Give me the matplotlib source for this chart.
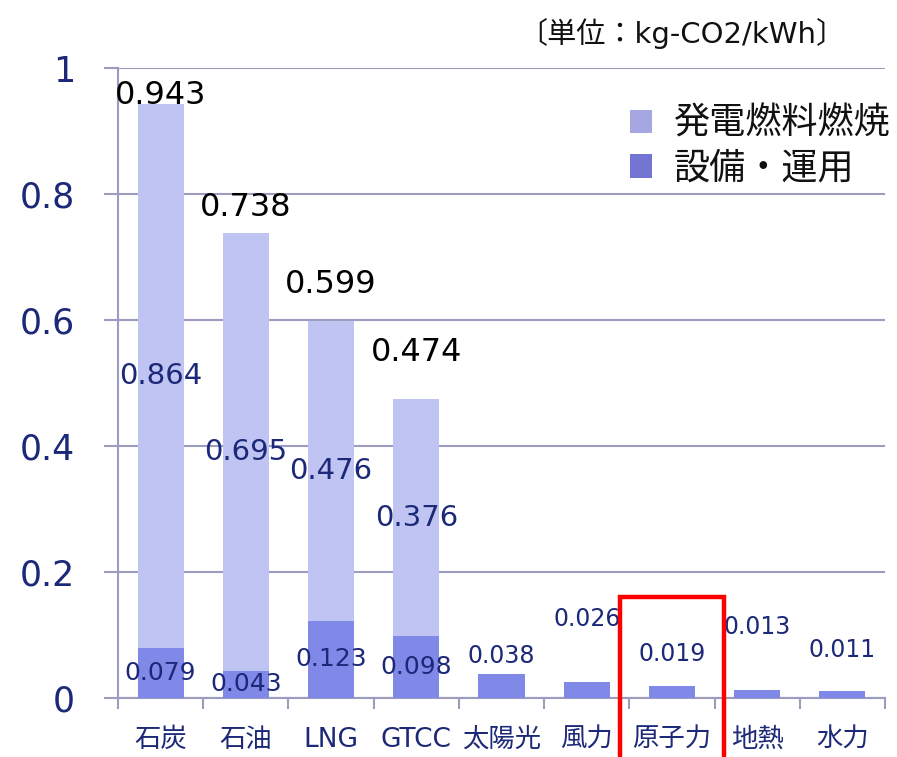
import matplotlib
matplotlib.use("Agg")
import matplotlib.pyplot as plt
from matplotlib.patches import Rectangle, Patch

plt.rcParams['font.family'] = ['DejaVu Sans', 'Noto Sans CJK JP']

categories = ['石炭', '石油', 'LNG', 'GTCC', '太陽光', '風力', '原子力', '地熱', '水力']
fuel = [0.864, 0.695, 0.476, 0.376, 0, 0, 0, 0, 0]
equip = [0.079, 0.043, 0.123, 0.098, 0.038, 0.026, 0.019, 0.013, 0.011]
totals = [0.943, 0.738, 0.599, 0.474]
yticks = [0, 0.2, 0.4, 0.6, 0.8, 1]
ytick_labels = ['0', '0.2', '0.4', '0.6', '0.8', '1']
legend_labels = ['発電燃料燃焼', '設備・運用']
unit_text = '〔単位：kg-CO2/kWh〕'

# label placement (layout, not data)
total_label_y = [0.957, 0.778, 0.656, 0.548]
small_label_y = [0.067, 0.126, 0.070, 0.113, 0.076]

light = '#c0c4f3'
dark = '#8189e8'
navy = '#1c2878'
grid_c = '#9c9cc0'

fig = plt.figure(figsize=(8.97, 7.57), dpi=100)
ax = fig.add_axes([118/897, 1-698/757, (885-118)/897, (698-68)/757])

x = list(range(len(categories)))
ax.bar(x, equip, width=0.54, color=dark, zorder=3)
ax.bar(x, fuel, bottom=equip, width=0.54, color=light, zorder=3)

ax.set_xlim(-0.5, len(categories) - 0.5)
ax.set_ylim(0, 1)

for s in ['top', 'right']:
    ax.spines[s].set_visible(False)
for s in ['left', 'bottom']:
    ax.spines[s].set_color(grid_c)
    ax.spines[s].set_linewidth(1.5)

ax.set_yticks(yticks)
ax.set_yticklabels(ytick_labels, fontsize=25, color=navy)
ax.tick_params(axis='y', length=10, width=1.5, color=grid_c, pad=21)
ax.grid(axis='y', color=grid_c, linewidth=1.5, zorder=0)
ax.set_axisbelow(True)

ax.set_xticks(x)
ax.set_xticklabels(categories, fontsize=19, color=navy)
ax.set_xticks([i - 0.5 for i in range(len(categories) + 1)], minor=True)
ax.tick_params(axis='x', which='major', length=0, pad=21)
ax.tick_params(axis='x', which='minor', length=8, width=1.5, color=grid_c)

for i in range(4):
    ax.text(i, total_label_y[i], f'{totals[i]:.3f}', ha='center', va='center',
            fontsize=23, color='black', zorder=5)
    ax.text(i, equip[i] + fuel[i] / 2, f'{fuel[i]:.3f}', ha='center', va='center',
            fontsize=21, color=navy, zorder=5)
    ax.text(i, equip[i] / 2, f'{equip[i]:.3f}', ha='center', va='center',
            fontsize=18, color=navy, zorder=5)
for j, i in enumerate(range(4, 9)):
    ax.text(i, small_label_y[j], f'{equip[i]:.3f}', ha='center', va='center',
            fontsize=17, color=navy, zorder=5)

# highlight box
ax.add_patch(Rectangle((5.395, -0.2), 1.21, 0.36, fill=False, edgecolor='#ff0000',
                       linewidth=3.2, clip_on=False, zorder=6))

handles = [Patch(facecolor='#a6a6e2', edgecolor='none'),
           Patch(facecolor='#7474d2', edgecolor='none')]
ax.legend(handles, legend_labels, loc='upper right', bbox_to_anchor=(1.05, 0.99),
          frameon=False, fontsize=26, handlelength=0.62, handleheight=0.62,
          handletextpad=0.6, labelspacing=0.3, labelcolor='#111111')

fig.text(845/897, 1-33/757, unit_text, ha='right', va='center', fontsize=21,
         color='#111111')

fig.savefig('out.png', dpi=100)
